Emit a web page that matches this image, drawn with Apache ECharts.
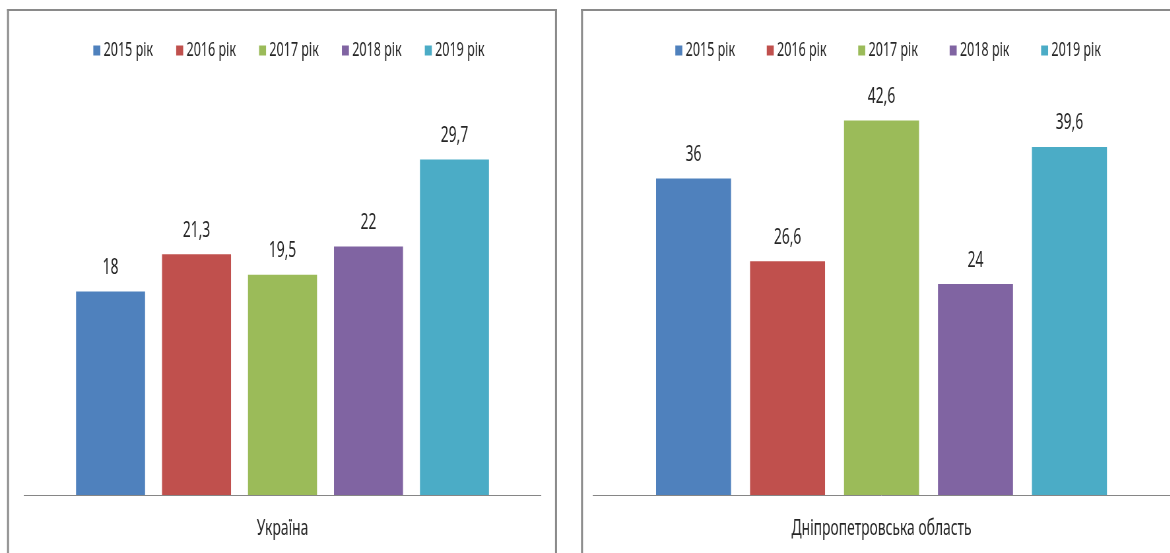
<!DOCTYPE html>
<html>
<head>
<meta charset="utf-8">
<script src="https://cdn.jsdelivr.net/npm/echarts@6/dist/echarts.min.js"></script>
<style>
  html, body { margin: 0; padding: 0; background: #fff; overflow: hidden; width: 1170px; height: 553px; }
  /* the chart is laid out wider and squeezed horizontally, giving the narrow lettering */
  #chart { width: 1773px; height: 553px; transform: scaleX(0.66); transform-origin: 0 0; }
</style>
</head>
<body>
<div id="chart"></div>
<script>
// Years shown as separate bars in each panel
const years = ['2015 рік', '2016 рік', '2017 рік', '2018 рік', '2019 рік'];
// Panel categories
const regionLeft = ['Україна'];
const regionRight = ['Дніпропетровська область'];
// Values per year
const valuesUkraine = [18, 21.3, 19.5, 22, 29.7];
const valuesDnipro = [36, 26.6, 42.6, 24, 39.6];

const SX = 0.66;               // horizontal squeeze applied to the container
const X = v => v / SX;         // page x -> layout x
const colors = ['#4F81BD', '#C0504D', '#9BBB59', '#8064A2', '#4BACC6'];
const FONT = '"Noto Sans", "Open Sans", sans-serif';
const TEXT = '#262626';
const FRAME = '#8a8a8a';

const fmt = p => String(p.value).replace('.', ',');

function makeSeries(values, axisIndex, width, gap) {
  return years.map((y, i) => ({
    name: y,
    type: 'bar',
    xAxisIndex: axisIndex,
    yAxisIndex: axisIndex,
    data: [values[i]],
    barWidth: width,
    barGap: gap,
    itemStyle: { color: colors[i] },
    label: {
      show: true,
      position: 'top',
      distance: 13,
      formatter: fmt,
      fontFamily: FONT,
      fontSize: 21,
      color: TEXT
    }
  }));
}

function legend(left, gap) {
  return {
    data: years,
    left: left,
    top: 36,
    itemWidth: X(7),
    itemHeight: 10,
    itemGap: gap,
    icon: 'rect',
    textStyle: { fontFamily: FONT, fontSize: 19, color: TEXT }
  };
}

function xAxis(grid, cat) {
  return {
    type: 'category',
    gridIndex: grid,
    data: cat,
    axisTick: { show: false },
    axisLine: { lineStyle: { color: '#868686', width: 1 } },
    axisLabel: { fontFamily: FONT, fontSize: 21, color: TEXT, margin: 24 }
  };
}

function yAxis(grid, max) {
  return {
    type: 'value',
    gridIndex: grid,
    min: 0,
    max: max,
    show: false,
    splitLine: { show: false }
  };
}

function vline(x) {
  return {
    type: 'line', z: -1,
    shape: { x1: X(x), y1: 9, x2: X(x), y2: 560 },
    style: { stroke: FRAME, lineWidth: X(2) }
  };
}
function hline(x1, x2) {
  return {
    type: 'line', z: -1,
    shape: { x1: X(x1), y1: 10, x2: X(x2), y2: 10 },
    style: { stroke: FRAME, lineWidth: 2 }
  };
}

const chart = echarts.init(document.getElementById('chart'));
chart.setOption({
  animation: false,
  backgroundColor: '#fff',
  legend: [legend(X(90), 35), legend(X(672), 48)],
  grid: [
    { left: X(24), width: X(517), top: 99.5, height: 395.5 },
    { left: X(593), width: X(577), top: 55.5, height: 439.5 }
  ],
  xAxis: [xAxis(0, regionLeft), xAxis(1, regionRight)],
  yAxis: [yAxis(0, 35), yAxis(1, 50)],
  graphic: [
    vline(8), vline(556), hline(7, 557),
    vline(582), hline(581, 1175)
  ],
  series: [
    ...makeSeries(valuesUkraine, 0, X(69), '24.6%'),
    ...makeSeries(valuesDnipro, 1, X(75), '25.3%')
  ]
});
</script>
</body>
</html>
